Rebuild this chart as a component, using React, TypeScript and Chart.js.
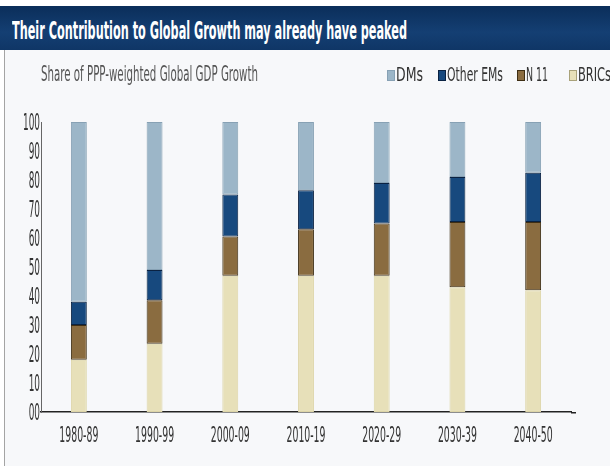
import React, { useEffect, useRef } from "react";
import { Chart, registerables } from "chart.js";

Chart.register(...registerables);

// ---- data ----
const categories = ["1980-89", "1990-99", "2000-09", "2010-19", "2020-29", "2030-39", "2040-50"];
const bricsShare = [18, 23.5, 47, 47, 47, 43, 42];
const n11Share = [12, 15, 13.5, 16, 18, 22.5, 23.5];
const otherEmShare = [8, 10.5, 14.5, 13.5, 14, 15.5, 17];
const dmShare = [62, 51, 25, 23.5, 21, 19, 17.5];
const yTickLabels = ["00", "10", "20", "30", "40", "50", "60", "70", "80", "90", "100"];
const seriesNames = ["BRICs", "N 11", "Other EMs", "DMs"];
const legendOrder = ["DMs", "Other EMs", "N 11", "BRICs"];
const titleText = "Their Contribution to Global Growth may already have peaked";
const subtitleText = "Share of PPP-weighted Global GDP Growth";

// ---- styles ----
const FONT = '"Liberation Sans Narrow", "DejaVu Sans Condensed", "Liberation Sans", sans-serif';
const fills: Record<string, string> = {
  "BRICs": "#e7e0b9",
  "N 11": "#8a6c40",
  "Other EMs": "#17497e",
  "DMs": "#9cb6c8",
};
const edges: Record<string, string> = {
  "BRICs": "#ddd5a8",
  "N 11": "#3e2e14",
  "Other EMs": "#0a2242",
  "DMs": "#87a1b4",
};
const seriesValues = [bricsShare, n11Share, otherEmShare, dmShare];

function measure(text: string, font: string): number {
  const c = document.createElement("canvas").getContext("2d")!;
  c.font = font;
  return c.measureText(text).width || 1;
}

function Squeezed(props: { text: string; font: string; width: number; left: number; top: number; height: number; color: string }) {
  const k = props.width / measure(props.text, props.font);
  return (
    <div
      style={{
        position: "absolute",
        left: props.left,
        top: props.top,
        height: props.height,
        lineHeight: props.height + "px",
        font: props.font,
        color: props.color,
        whiteSpace: "nowrap",
        transform: `scaleX(${k})`,
        transformOrigin: "left center",
      }}
    >
      {props.text}
    </div>
  );
}

const squeezeTicks = {
  id: "squeezeTicks",
  afterDraw(chart: any) {
    const ctx = chart.ctx as CanvasRenderingContext2D;
    const xs = chart.scales.x;
    const ys = chart.scales.y;
    ctx.save();
    ctx.fillStyle = "#333";
    ctx.textBaseline = "middle";
    ctx.font = `23px ${FONT}`;
    const ky = 17 / ctx.measureText("100").width;
    ctx.textAlign = "right";
    ys.ticks.forEach((t: any) => {
      const py = ys.getPixelForValue(t.value);
      const lbl = yTickLabels[Math.round(t.value / 10)];
      ctx.save();
      ctx.translate(ys.right - 1, py + 2);
      ctx.scale(ky, 1);
      ctx.fillText(lbl, 0, 0);
      ctx.restore();
    });
    ctx.font = `22px ${FONT}`;
    const kx = 39 / ctx.measureText("1980-89").width;
    ctx.textAlign = "center";
    (chart.data.labels as string[]).forEach((lbl: string, i: number) => {
      const px = xs.getPixelForTick(i);
      ctx.save();
      ctx.translate(px, 436);
      ctx.scale(kx, 1);
      ctx.fillText(lbl, 0, 0);
      ctx.restore();
    });
    // small extension of the x-axis line to the right
    ctx.strokeStyle = "#222";
    ctx.lineWidth = 1.5;
    ctx.beginPath();
    ctx.moveTo(xs.right, xs.top + 0.75);
    ctx.lineTo(xs.right + 5, xs.top + 0.75);
    ctx.stroke();
    ctx.restore();
  },
};

export default function App() {
  const ref = useRef<HTMLCanvasElement>(null);

  useEffect(() => {
    const chart = new Chart(ref.current!, {
      type: "bar",
      data: {
        labels: categories,
        datasets: seriesNames.map((name, i) => ({
          label: name,
          data: seriesValues[i],
          backgroundColor: fills[name],
          borderColor: edges[name],
          borderWidth: 1,
          borderSkipped: false,
          barPercentage: 0.21,
          categoryPercentage: 1,
        })),
      },
      options: {
        animation: false,
        responsive: false,
        maintainAspectRatio: false,
        devicePixelRatio: 1,
        layout: { padding: { left: 41, right: 39, top: 122, bottom: 57 } },
        plugins: {
          legend: { display: false },
          tooltip: { enabled: false },
          title: { display: false },
        },
        scales: {
          x: {
            stacked: true,
            grid: { display: false, drawTicks: false },
            ticks: { display: false },
            border: { display: true, color: "#222", width: 1.5 },
          },
          y: {
            stacked: true,
            min: 0,
            max: 100,
            grid: { display: false, drawTicks: false },
            ticks: { display: false, stepSize: 10 },
            border: { display: true, color: "#666", width: 1 },
          },
        },
      },
      plugins: [squeezeTicks],
    });
    return () => chart.destroy();
  }, []);

  const legendX = [387, 438, 517, 569];
  const legendW = [27, 56, 22, 33];

  return (
    <div style={{ position: "fixed", left: 0, top: 0, width: 610, height: 469, background: "#ffffff", overflow: "hidden" }}>
      <div
        style={{
          position: "absolute",
          left: 4,
          top: 50,
          width: 606,
          height: 416,
          background: "#f7f8fa",
          borderLeft: "1px solid #a4a4a4",
        }}
      />
      <div
        style={{
          position: "absolute",
          left: 0,
          top: 6,
          width: 610,
          height: 44,
          background: "linear-gradient(#0b2e5a, #143f73 60%, #0f3666)",
        }}
      />
      <Squeezed text={titleText} font={`bold 25px ${FONT}`} width={395} left={12} top={16} height={30} color="#ffffff" />
      <canvas ref={ref} width={610} height={469} style={{ position: "absolute", left: 0, top: 0, width: 610, height: 469 }} />
      <Squeezed text={subtitleText} font={`21px ${FONT}`} width={217} left={41} top={62} height={26} color="#555" />
      {legendOrder.map((name, i) => (
        <React.Fragment key={name}>
          <div
            style={{
              position: "absolute",
              left: legendX[i],
              top: 70,
              width: 6,
              height: 9,
              background: fills[name],
              border: `1px solid ${edges[name] === "#ddd5a8" ? "#a9a27a" : edges[name]}`,
            }}
          />
          <Squeezed text={name} font={`20px ${FONT}`} width={legendW[i]} left={legendX[i] + 9} top={62} height={26} color="#333" />
        </React.Fragment>
      ))}
    </div>
  );
}
